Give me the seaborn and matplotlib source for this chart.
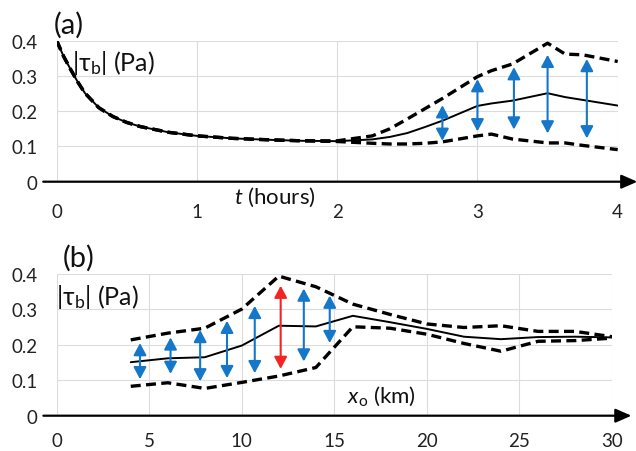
import matplotlib
matplotlib.use("Agg")
import matplotlib.pyplot as plt
import seaborn as sns
import numpy as np
import pandas as pd

# ---------------- data: panel (a) ----------------
t_hours = [0, 0.05, 0.1, 0.15, 0.2, 0.3, 0.4, 0.5, 0.6, 0.8, 1.0, 1.25, 1.5, 1.75,
           2.0, 2.25, 2.375, 2.5, 2.625, 2.75, 3.0, 3.1, 3.25, 3.5, 3.625, 3.75, 4.0]
tau_a_mean = [0.400, 0.355, 0.318, 0.283, 0.252, 0.210, 0.185, 0.168, 0.156, 0.140, 0.130, 0.123, 0.119, 0.116,
              0.115, 0.120, 0.127, 0.138, 0.155, 0.173, 0.215, 0.222, 0.230, 0.251, 0.240, 0.232, 0.216]
tau_a_upper = [0.400, 0.355, 0.318, 0.283, 0.252, 0.210, 0.185, 0.168, 0.156, 0.140, 0.130, 0.123, 0.119, 0.116,
               0.116, 0.130, 0.150, 0.178, 0.207, 0.236, 0.298, 0.315, 0.334, 0.393, 0.362, 0.360, 0.341]
tau_a_lower = [0.400, 0.355, 0.318, 0.283, 0.252, 0.210, 0.185, 0.168, 0.156, 0.140, 0.130, 0.123, 0.119, 0.116,
               0.114, 0.109, 0.107, 0.107, 0.109, 0.113, 0.130, 0.135, 0.121, 0.110, 0.110, 0.103, 0.091]
arrow_a_x = [2.75, 3.0, 3.26, 3.5, 3.78]
arrow_a_top = [0.217, 0.291, 0.325, 0.360, 0.348]
arrow_a_bottom = [0.116, 0.143, 0.148, 0.137, 0.123]
ticks_a_x = [0, 1, 2, 3, 4]

# ---------------- data: panel (b) ----------------
x_km = [4, 6, 8, 10, 12, 14, 16, 18, 20, 22, 24, 26, 28, 30]
tau_b_mean = [0.151, 0.162, 0.165, 0.198, 0.254, 0.252, 0.282, 0.264, 0.245, 0.223, 0.216, 0.222, 0.223, 0.221]
tau_b_upper = [0.214, 0.233, 0.247, 0.301, 0.394, 0.364, 0.315, 0.286, 0.259, 0.249, 0.254, 0.238, 0.238, 0.223]
tau_b_lower = [0.083, 0.093, 0.077, 0.094, 0.112, 0.136, 0.251, 0.247, 0.230, 0.204, 0.182, 0.210, 0.212, 0.219]
arrow_b_x = [4.5, 6.15, 7.75, 9.2, 10.7, 12.1, 13.35, 14.75]
arrow_b_top = [0.205, 0.221, 0.242, 0.268, 0.310, 0.367, 0.359, 0.339]
arrow_b_bottom = [0.103, 0.118, 0.097, 0.106, 0.120, 0.132, 0.153, 0.205]
arrow_b_color = ["blue", "blue", "blue", "blue", "blue", "red", "blue", "blue"]
ticks_b_x = [0, 5, 10, 15, 20, 25, 30]

y_ticks = [0, 0.1, 0.2, 0.3, 0.4]
y_ticklabels = ["0", "0.1", "0.2", "0.3", "0.4"]

# ---------------- style ----------------
sns.set_style("white")
plt.rcParams["font.family"] = ["Lato", "DejaVu Sans"]
plt.rcParams["mathtext.fontset"] = "custom"
plt.rcParams["mathtext.rm"] = "Lato"
plt.rcParams["mathtext.it"] = "Lato:italic"
plt.rcParams["mathtext.bf"] = "Lato:bold"

COLORS = {"blue": "#1477c9", "red": "#f52424"}
W, H = 636, 452
fig = plt.figure(figsize=(W / 100, H / 100), dpi=100)

ax_a = fig.add_axes([56.7 / W, 1 - 182.7 / H, (617.7 - 56.7) / W, (182.7 - 41.7) / H])
ax_b = fig.add_axes([56.7 / W, 1 - 416.7 / H, (612.0 - 56.7) / W, (416.7 - 275.0) / H])

dash = (0, (3.0, 1.6))


def draw_panel(ax, x, mean, upper, lower, ax_x, ax_top, ax_bot, colors, xlim, xticks, xpad):
    df = pd.DataFrame({"x": x, "mean": mean, "upper": upper, "lower": lower})
    sns.lineplot(data=df, x="x", y="upper", ax=ax, color="black", lw=2.4, linestyle=dash, zorder=4)
    sns.lineplot(data=df, x="x", y="lower", ax=ax, color="black", lw=2.4, linestyle=dash, zorder=4)
    sns.lineplot(data=df, x="x", y="mean", ax=ax, color="black", lw=1.4, zorder=5)
    for xi, yt, yb, c in zip(ax_x, ax_top, ax_bot, colors):
        ax.annotate("", xy=(xi, yt), xytext=(xi, yb),
                    arrowprops=dict(arrowstyle="<|-|>,head_length=0.6,head_width=0.32",
                                    color=COLORS[c], lw=1.5, mutation_scale=12,
                                    shrinkA=0, shrinkB=0), zorder=6)
    ax.set_xlim(*xlim)
    ax.set_ylim(0, 0.4)
    ax.set_xticks(xticks)
    ax.set_xticklabels([str(v) for v in xticks])
    ax.set_yticks(y_ticks)
    ax.set_yticklabels(y_ticklabels)
    ax.set_xlabel("")
    ax.set_ylabel("")
    ax.grid(True, color="#dcdcdc", lw=0.8)
    ax.set_axisbelow(True)
    for s in ax.spines.values():
        s.set_visible(False)
    ax.tick_params(axis="x", length=0, pad=xpad, labelsize=13.5, colors="#222222")
    ax.tick_params(axis="y", length=0, pad=14, labelsize=13.5, colors="#222222")
    # axis line with arrow
    ax.annotate("", xy=(1.035, 0), xytext=(-0.024, 0), xycoords="axes fraction",
                textcoords="axes fraction",
                arrowprops=dict(arrowstyle="-|>,head_length=0.8,head_width=0.35",
                                color="black", lw=1.6, mutation_scale=12,
                                shrinkA=0, shrinkB=0), annotation_clip=False, zorder=7)


draw_panel(ax_a, t_hours, tau_a_mean, tau_a_upper, tau_a_lower,
           arrow_a_x, arrow_a_top, arrow_a_bottom, ["blue"] * len(arrow_a_x), (0, 4), ticks_a_x, 15)
draw_panel(ax_b, x_km, tau_b_mean, tau_b_upper, tau_b_lower,
           arrow_b_x, arrow_b_top, arrow_b_bottom, arrow_b_color, (0, 30), ticks_b_x, 12)


def ftext(x, y, s, size, **kw):
    fig.text(x / W, 1 - y / H, s, fontsize=size, ha="left", va="center", color="#111111", **kw)


ftext(54, 25, "(a)", 21)
ftext(63, 258, "(b)", 21)
ftext(72, 63, r"|τ$_{\mathrm{b}}$| (Pa)", 18)
ftext(56, 297, r"|τ$_{\mathrm{b}}$| (Pa)", 18)
ftext(234, 197, r"$t$ (hours)", 16)
ftext(347, 396, r"$x_{\mathrm{o}}$ (km)", 16)

fig.savefig("out.png", dpi=100)
